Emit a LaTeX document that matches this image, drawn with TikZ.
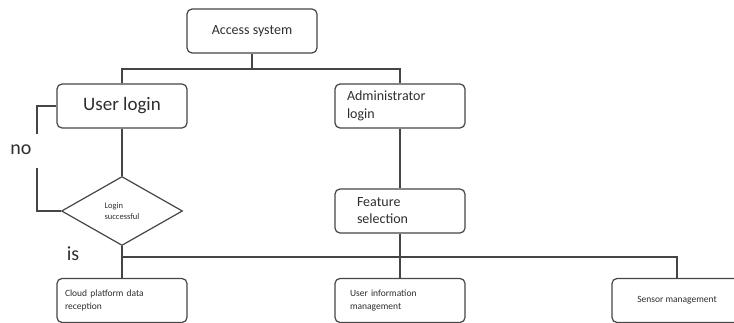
\documentclass[tikz,border=0pt]{standalone}
\usepackage{fontspec}
\setmainfont{Carlito}
\usetikzlibrary{shapes.geometric}
\definecolor{linegray}{HTML}{454545}
\definecolor{textgray}{HTML}{2E2E2E}
\tikzset{
    box/.style={draw=linegray, line width=1.2pt, rounded corners=5pt, rectangle,
        minimum width=130pt, minimum height=44pt, text=textgray},
    leftbox/.style={box, text width=#1, align=left},
    check/.style={draw=linegray, line width=1.2pt, diamond, inner sep=0pt,
        minimum width=121pt, minimum height=69pt, text=textgray},
    link/.style={draw=linegray, line width=1.2pt},
    answer/.style={text=textgray, font=\fontsize{20}{22}\selectfont}
}

\begin{document}
\begin{tikzpicture}[x=1pt, y=-1pt]
    \useasboundingbox (0,0) rectangle (734,323);

    \node[box, font=\fontsize{14}{17}\selectfont] (access) at (252,31) {Access system} ;
    \node[box, font=\fontsize{19}{22}\selectfont] (user) at (122,106) {User login} ;
    \node[leftbox=106pt, font=\fontsize{14}{18}\selectfont] (admin) at (400,106) {Administrator\\login} ;
    \node[leftbox=86pt, font=\fontsize{14}{17}\selectfont] (feature) at (400,211) {Feature\\selection} ;
    \node[check, font=\fontsize{8.5}{11}\selectfont, align=left] (login) at (122,211) {Login\\successful} ;
    \node[leftbox=114pt, font=\fontsize{9.5}{13}\selectfont] (cloud) at (122,300.5) {Cloud platform data\\reception} ;
    \node[leftbox=100pt, font=\fontsize{9.5}{13}\selectfont] (info) at (400,300.5) {User information\\management} ;
    \node[box, font=\fontsize{9.5}{12}\selectfont] (sensor) at (677,300.5) {Sensor management} ;

    \node[answer] (no) at (21,150) {no} ;
    \node[answer] (is) at (73,254) {is} ;

    \coordinate (top) at (252,69) ;
    \coordinate (nostop) at (37,134) ;
    \coordinate (noresume) at (37,168) ;
    \coordinate (split) at (400,257) ;

    % root splits into the two logins
    \draw[link] (access) -- (top) ;
    \draw[link] (user.north) |- (top) -| (admin.north) ;

    % user branch: check and retry loop
    \draw[link] (user) -- (login) ;
    \draw[link] (user.west) -| (nostop) ;
    \draw[link] (noresume) |- (login.west) ;
    \draw[link] (login) -- (cloud) ;

    % administrator branch
    \draw[link] (admin) -- (feature) ;
    \draw[link] (feature) -- (info) ;
    \draw[link] (login.south |- split) -- (split) -| (sensor.north) ;
\end{tikzpicture}
\end{document}
